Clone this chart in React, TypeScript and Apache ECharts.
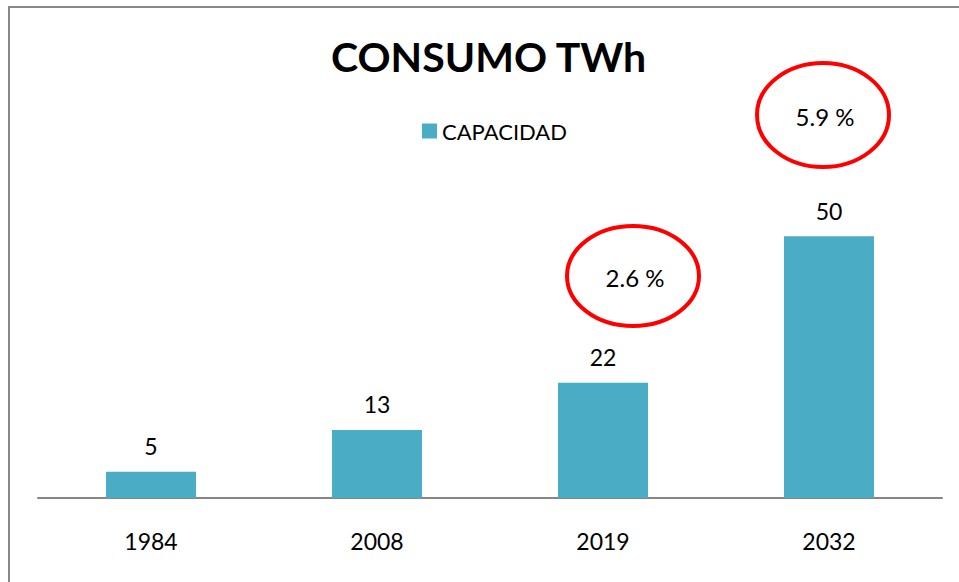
import React, { useEffect, useRef } from "react";
import * as echarts from "echarts";

const categories = ["1984", "2008", "2019", "2032"];
const capacidad = [5, 13, 22, 50];
const seriesName = "CAPACIDAD";
const titleText = "CONSUMO TWh";
const growthNotes = [
  { text: "2.6 %", cx: 633, cy: 276, rx: 66, ry: 50 },
  { text: "5.9 %", cx: 823, cy: 115, rx: 66, ry: 52 },
];

const FONT = "Lato, 'Open Sans', sans-serif";

export default function App() {
  const ref = useRef<HTMLDivElement>(null);
  useEffect(() => {
    if (!ref.current) return;
    const chart = echarts.init(ref.current, null, { renderer: "svg" });
    chart.setOption({
      animation: false,
      backgroundColor: "#ffffff",
      title: {
        text: titleText,
        left: 326,
        top: 31,
        textStyle: { fontFamily: FONT, fontWeight: "bold", fontSize: 41, color: "#000000" },
      },
      legend: {
        data: [seriesName],
        top: 115,
        left: 417,
        itemWidth: 15,
        itemHeight: 15,
        itemGap: 7,
        icon: "rect",
        textStyle: { fontFamily: FONT, fontSize: 22, color: "#000000" },
      },
      grid: { left: 38, right: 17, top: 184, bottom: 84, containLabel: false },
      xAxis: {
        type: "category",
        data: categories,
        axisLine: { lineStyle: { color: "#868686", width: 2 } },
        axisTick: { show: false },
        axisLabel: { fontFamily: FONT, fontSize: 23, color: "#000000", margin: 31 },
      },
      yAxis: {
        type: "value",
        min: 0,
        max: 60,
        show: false,
        splitLine: { show: false },
      },
      series: [
        {
          name: seriesName,
          type: "bar",
          data: capacidad,
          barWidth: 90,
          itemStyle: { color: "#4BACC6" },
          label: {
            show: true,
            position: "top",
            distance: 14,
            fontFamily: FONT,
            fontSize: 23,
            color: "#000000",
          },
        },
      ],
      graphic: [
        {
          type: "rect",
          shape: { x: 9, y: 7, width: 1200, height: 1200 },
          style: { fill: "none", stroke: "#888888", lineWidth: 2 },
          silent: true,
        },
        ...growthNotes.flatMap((n) => [
          {
            type: "ellipse",
            shape: { cx: n.cx, cy: n.cy, rx: n.rx, ry: n.ry },
            style: { fill: "none", stroke: "#ff0000", lineWidth: 4 },
          },
          {
            type: "text",
            x: n.cx + 2,
            y: n.cy + 1,
            style: {
              text: n.text,
              fontFamily: FONT,
              fontSize: 24,
              fill: "#000000",
              align: "center",
              verticalAlign: "middle",
            },
          },
        ]),
      ],
    });
    return () => chart.dispose();
  }, []);
  return (
    <div
      ref={ref}
      style={{ position: "fixed", left: 0, top: 0, width: 959, height: 582 }}
    />
  );
}
